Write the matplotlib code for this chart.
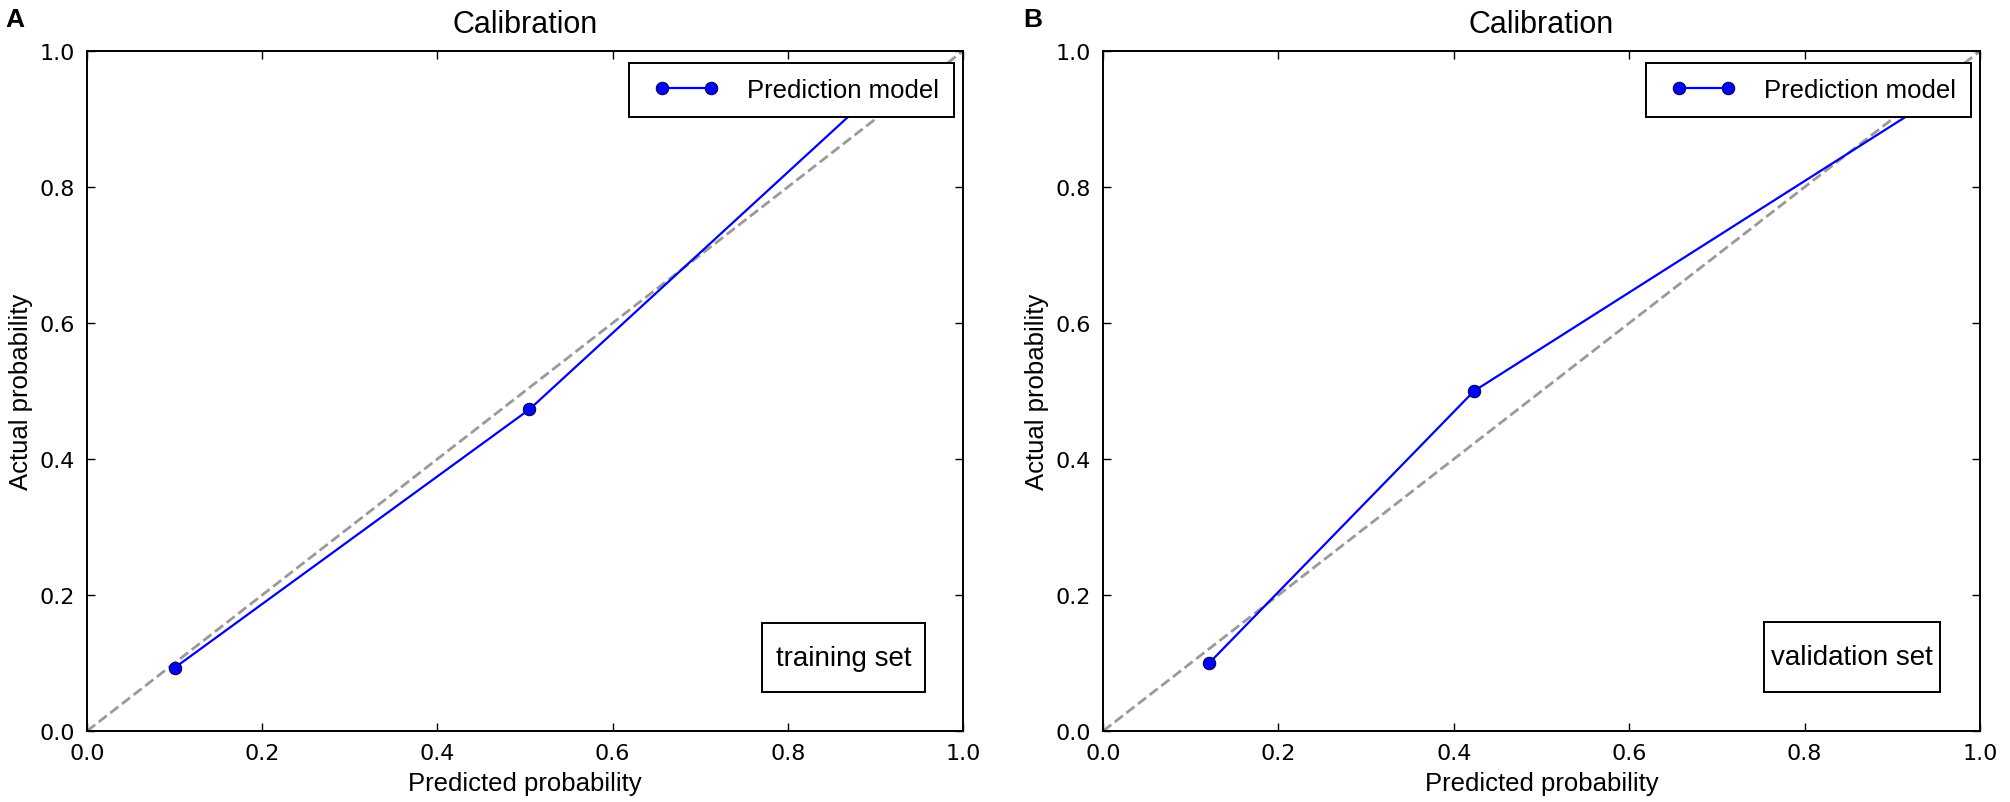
import matplotlib
matplotlib.use("Agg")
import matplotlib.pyplot as plt
from matplotlib.legend_handler import HandlerLine2D
from matplotlib.patches import Rectangle

# calibration points (predicted vs actual), last point sits under the legend
pred_train = [0.10, 0.505, 0.90]
actual_train = [0.093, 0.473, 0.94]
pred_valid = [0.121, 0.423, 0.96]
actual_valid = [0.100, 0.500, 0.94]
diag = [0.0, 1.0]

ticks = [0.0, 0.2, 0.4, 0.6, 0.8, 1.0]
tick_labels = ["0.0", "0.2", "0.4", "0.6", "0.8", "1.0"]
panel_letters = ["A", "B"]
set_names = ["training set", "validation set"]

txt_font = "Liberation Sans"
tick_font = "DejaVu Sans"

fig = plt.figure(figsize=(20.1, 8.03), dpi=100)
ax_a = fig.add_axes([0.0433, 0.0884, 0.4358, 0.8468])
ax_b = fig.add_axes([0.5488, 0.0884, 0.4363, 0.8468])

# set-name boxes: (centre x, centre y, width, height) in axes fraction
box_geo = [(0.864, 0.108, 0.186, 0.101), (0.854, 0.109, 0.2007, 0.103)]
letter_x = [0.0025, 0.509]

data = [(pred_train, actual_train), (pred_valid, actual_valid)]

for i, ax in enumerate([ax_a, ax_b]):
    xs, ys = data[i]
    ax.plot(diag, diag, linestyle="--", color="#9a9a9a", lw=2.0, zorder=1)
    ax.plot(xs, ys, color="b", lw=1.6, marker="o", ms=9,
            markerfacecolor="b", markeredgecolor="#000033", markeredgewidth=0.7,
            label="Prediction model", zorder=2)

    ax.set_xlim(0, 1)
    ax.set_ylim(0, 1)
    ax.set_xticks(ticks)
    ax.set_yticks(ticks)
    ax.set_xticklabels(tick_labels, fontfamily=tick_font, fontsize=16)
    ax.set_yticklabels(tick_labels, fontfamily=tick_font, fontsize=16)
    ax.tick_params(direction="in", top=True, right=True, length=5.8, width=1.0,
                   pad=8.5, color="black")
    for sp in ax.spines.values():
        sp.set_linewidth(1.4)
        sp.set_color("black")

    ax.set_title("Calibration", fontfamily=txt_font, fontsize=22, pad=13.5)
    ax.set_xlabel("Predicted probability", fontfamily=txt_font, fontsize=18.5, labelpad=6)
    ax.set_ylabel("Actual probability", fontfamily=txt_font, fontsize=18.5, labelpad=5)

    leg = ax.legend(loc="upper right", bbox_to_anchor=(0.9897, 0.982),
                    borderaxespad=0, fancybox=False, framealpha=1,
                    edgecolor="black", borderpad=0.57, handlelength=2.65,
                    handletextpad=1.4,
                    prop={"family": txt_font, "size": 18.5},
                    handler_map={matplotlib.lines.Line2D:
                                 HandlerLine2D(numpoints=2, marker_pad=0, xpad=0.74)})
    leg.get_frame().set_linewidth(1.4)
    leg.set_zorder(5)

    cx, cy, w, h = box_geo[i]
    ax.add_patch(Rectangle((cx - w / 2, cy - h / 2), w, h, transform=ax.transAxes,
                           facecolor="white", edgecolor="black", lw=1.4, zorder=4))
    ax.text(cx, cy, set_names[i], transform=ax.transAxes, ha="center", va="center",
            fontfamily=txt_font, fontsize=20, zorder=6)

    fig.text(letter_x[i], 0.9664, panel_letters[i], fontfamily=txt_font,
             fontsize=19, fontweight="bold", va="baseline", ha="left")

fig.savefig("out.png", dpi=100)
